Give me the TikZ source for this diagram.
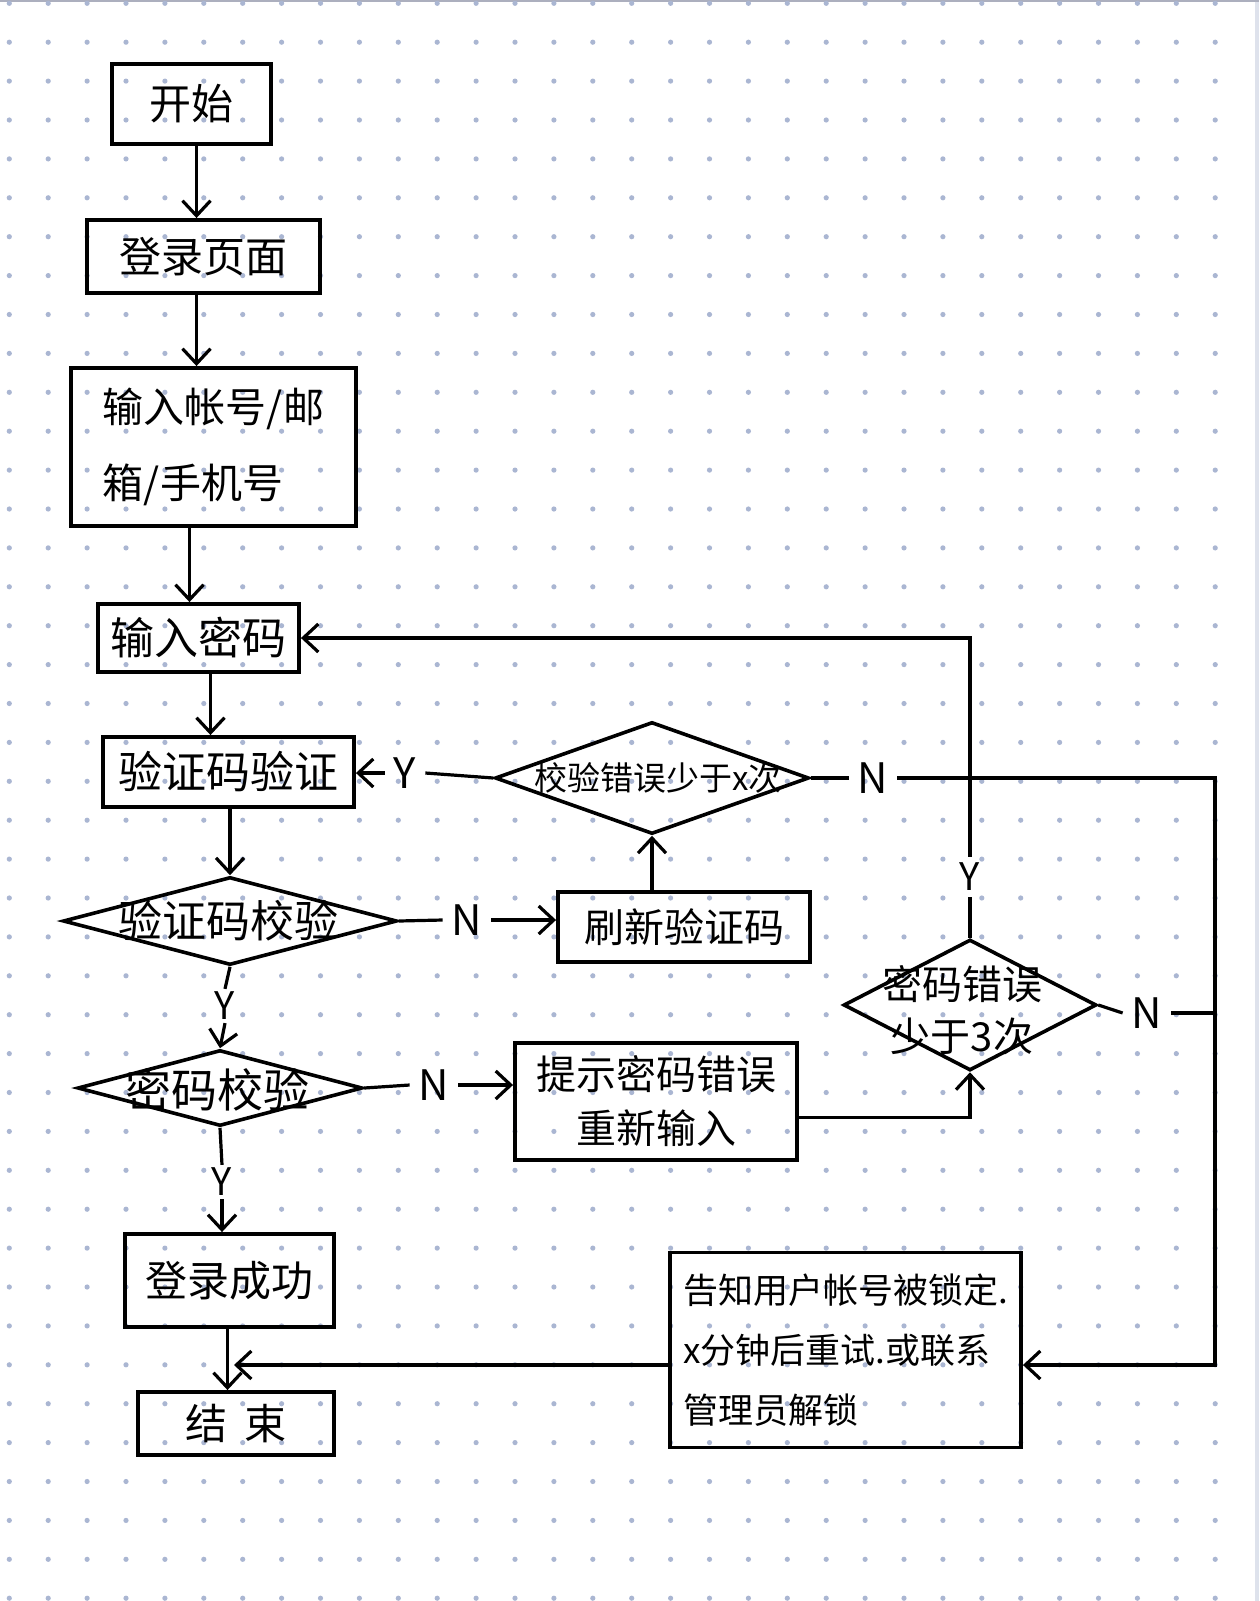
\documentclass[tikz,border=0pt]{standalone}
\usepackage{fontspec}
\setmainfont{Noto Sans CJK SC}
\usetikzlibrary{shapes.geometric,arrows.meta,calc}
\definecolor{dotc}{RGB}{170,182,210}
\definecolor{edgegray}{RGB}{172,175,190}
\definecolor{bandc}{RGB}{222,226,236}
\begin{document}
\begin{tikzpicture}[x=1pt,y=-1pt,
  box/.style={draw, line width=3.9pt, inner sep=0pt},
  dia/.style={draw, diamond, line width=3.6pt, inner sep=0pt, aspect=1},
  fbig/.style={font=\fontsize{42}{52}\selectfont},
  conn/.style={line width=3.2pt},
  arr/.style={conn, -{Straight Barb[length=15pt,width=28pt]}},
  yn/.style={font=\fontsize{42}{42}\selectfont, inner sep=9pt},
  ynv/.style={font=\fontsize{38}{38}\selectfont, inner sep=3pt}
]
% paper: frame and dot grid
\useasboundingbox (0,0) rectangle (1259,1601);
\fill[white] (0,0) rectangle (1259,1601);
\fill[bandc] (1255,0) rectangle (1259,1601);
\draw[edgegray, line width=2pt] (0,1) -- (1259,1);
\foreach \i in {0,...,31}
  \foreach \j in {0,...,41}
    \fill[dotc] (9.3+38.9*\i, 3.3+38.9*\j) circle (2.6);

% main column
\node[box, fbig, minimum width=159pt, minimum height=80pt] (start) at (191.5,104) {开始};
\node[box, fbig, minimum width=233pt, minimum height=73pt] (login) at (203.5,256.5) {登录页面};
\node[box, minimum width=285pt, minimum height=158pt, align=left,
      font=\fontsize{41}{76}\selectfont] (account) at (213.5,447) {输入帐号/邮\\箱/手机号};
\node[box, font=\fontsize{44}{52}\selectfont, minimum width=201pt, minimum height=68pt] (pwd) at (198.5,638) {输入密码};
\node[box, font=\fontsize{44}{52}\selectfont, minimum width=251pt, minimum height=70pt] (captcha) at (228.5,772) {验证码验证};
\node[dia, minimum width=334pt, minimum height=88pt] (capchk) at (230,921) {};
\node[font=\fontsize{44}{52}\selectfont] (capchkt) at (228,921) {验证码校验};
\node[dia, minimum width=285pt, minimum height=76pt] (pwdchk) at (220,1088) {};
\node[font=\fontsize{46}{52}\selectfont] (pwdchkt) at (217,1090) {密码校验};
\node[box, fbig, minimum width=209pt, minimum height=93pt] (success) at (229.5,1280.5) {登录成功};
\node[box, fbig, minimum width=196pt, minimum height=63pt] (endn) at (236,1423.5) {结\hspace{18pt}束};

% right side
\node[box, font=\fontsize{40}{52}\selectfont, minimum width=252pt, minimum height=70pt] (refresh) at (684,927) {刷新验证码};
\node[dia, minimum width=314pt, minimum height=112pt] (cntchk) at (652,778) {};
\node[font=\fontsize{33}{40}\selectfont] (cntchkt) at (658,778) {校验错误少于x次};
\node[box, minimum width=282pt, minimum height=117pt, align=center,
      font=\fontsize{40}{54}\selectfont] (hint) at (656,1101.5) {提示密码错误\\重新输入};
\node[dia, minimum width=253pt, minimum height=131pt] (pwdcnt) at (970,1005) {};
\node[align=center, font=\fontsize{40}{52}\selectfont] (pwdcntt) at (962,1010) {密码错误\\少于3次};
\node[box, minimum width=351pt, minimum height=195pt, align=left,
      font=\fontsize{35}{60}\selectfont] (lock) at (845.5,1350) {告知用户帐号被锁定.\\x分钟后重试.或联系\\管理员解锁};

% branch labels
\node[yn] (y1) at (405,773) {Y};
\node[yn] (n1) at (467,920) {N};
\node[yn] (n2) at (873,778) {N};
\node[ynv] (y2) at (225,1006) {Y};
\node[yn] (n3) at (434,1085) {N};
\node[ynv, inner sep=6pt] (y3) at (970,877) {Y};
\node[yn] (n4) at (1147,1013) {N};
\node[ynv] (y4) at (222,1182) {Y};

\coordinate (railtop) at (1215,778);
\coordinate (railbot) at (1215,1365);
\coordinate (joint) at (234,1365);

% connectors
\draw[arr] ([xshift=5pt]start.south) -- ([xshift=5pt]start.south |- login.north);
\draw[arr] ([xshift=-7pt]login.south) -- ([xshift=-7pt]login.south |- account.north);
\draw[arr] ([xshift=-24pt]account.south) -- ([xshift=-24pt]account.south |- pwd.north);
\draw[arr] ([xshift=12pt]pwd.south) -- ([xshift=12pt]pwd.south |- captcha.north);
\draw[arr] (captcha.south -| capchk.north) -- (capchk.north);

\draw[conn] (capchk.east) -- (n1.west);
\draw[arr] (n1.east) -- (n1.east -| refresh.west);
\draw[arr] (refresh.north -| cntchk.south) -- (cntchk.south);
\draw[conn] (cntchk.west) -- (y1.east);
\draw[arr] (y1.west) -- (y1.west -| captcha.east);
\draw[conn] (cntchk.east) -- (n2.west);
\draw[arr] (n2.east) -- (railtop) -- (railbot) -- (railbot -| lock.east);

\draw[conn] (capchk.south) -- (y2.north);
\draw[arr] (y2.south) -- (pwdchk.north);
\draw[conn] (pwdchk.east) -- (n3.west);
\draw[arr] (n3.east) -- (n3.east -| hint.west);
\draw[arr] ($(hint.east)+(0,16)$) -- ($(hint.east -| pwdcnt.south)+(0,16)$) -- (pwdcnt.south);
\draw[conn] (pwdcnt.north) -- (y3.south);
\draw[arr] (y3.north) -- (y3.north |- pwd.east) -- (pwd.east);
\draw[conn] (pwdcnt.east) -- (n4.west);
\draw[conn] (n4.east) -- (n4.east -| railtop);

\draw[conn] (pwdchk.south) -- (y4.north);
\draw[arr] (y4.south) -- (y4.south |- success.north);
\draw[arr] ([xshift=-2pt]success.south) -- ([xshift=-2pt]success.south |- endn.north);
\draw[arr] (railbot -| lock.west) -- (joint);
\end{tikzpicture}
\end{document}
